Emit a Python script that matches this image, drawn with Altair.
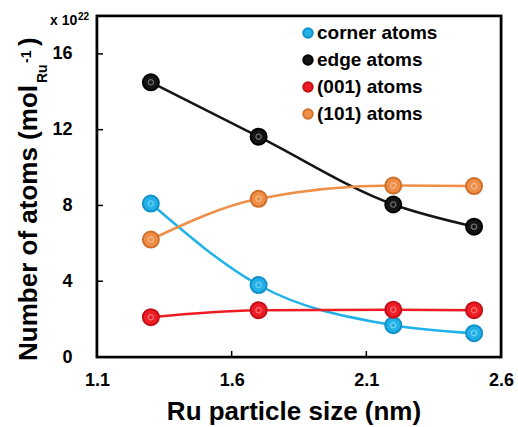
import altair as alt
import pandas as pd

# ---- data ----
sizes = [1.3, 1.7, 2.2, 2.5]
series = ["corner atoms", "edge atoms", "(001) atoms", "(101) atoms"]
corner = [8.1, 3.8, 1.68, 1.26]
edge = [14.5, 11.63, 8.05, 6.88]
f001 = [2.1, 2.47, 2.5, 2.47]
f101 = [6.2, 8.35, 9.05, 9.02]
x_ticks = [1.1, 1.6, 2.1, 2.6]
y_ticks = [0, 4, 8, 12, 16]
y_domain = [0, 18]
colors = ["#1FB1E8", "#151515", "#EE1C24", "#EE8E47"]
edge_colors = ["#1390C8", "#000000", "#C30F18", "#CF6F2A"]

rows = []
for name, vals in zip(series, [corner, edge, f001, f101]):
    for s, v in zip(sizes, vals):
        rows.append({"size": s, "value": v, "series": name})
df = pd.DataFrame(rows)

FONT = "Liberation Sans"
W, H = 404, 341
BW = 1.3  # half of the frame line width

xs = alt.Scale(domain=[x_ticks[0], x_ticks[-1]], nice=False, zero=False)
ys = alt.Scale(domain=y_domain, nice=False)
cs = alt.Scale(domain=series, range=colors)
ss = alt.Scale(domain=series, range=edge_colors)

x_enc = alt.X(
    "size:Q", scale=xs,
    axis=alt.Axis(values=x_ticks, format=".1f", title=None, ticks=False,
                  domain=False, grid=False, labelPadding=14,
                  labelFont=FONT, labelFontSize=18, labelFontWeight="bold",
                  labelColor="black", labelFlush=False),
)
y_enc = alt.Y(
    "value:Q", scale=ys,
    axis=alt.Axis(values=y_ticks, format="d", title=None, ticks=False,
                  domain=False, grid=False, labelPadding=25,
                  labelFont=FONT, labelFontSize=18, labelFontWeight="bold",
                  labelColor="black", labelFlush=False),
)

one = pd.DataFrame({"f": [0]})

# plot frame as two filled rectangles: black outer, white inner
frame_outer = alt.Chart(one).mark_rect(color="#000000", opacity=1).encode(
    x=alt.value(-BW), x2=alt.value(W + BW), y=alt.value(-BW), y2=alt.value(H + BW))
frame_inner = alt.Chart(one).mark_rect(color="#FFFFFF", opacity=1).encode(
    x=alt.value(BW), x2=alt.value(W - BW), y=alt.value(BW), y2=alt.value(H - BW))

base = alt.Chart(df)

lines = base.mark_line(strokeWidth=2.5, interpolate="monotone").encode(
    x=x_enc, y=y_enc,
    color=alt.Color("series:N", scale=cs, legend=None),
    detail="series:N",
)

points = base.mark_point(filled=True, size=256, strokeWidth=2, opacity=1).encode(
    x=alt.X("size:Q", scale=xs),
    y=alt.Y("value:Q", scale=ys),
    fill=alt.Fill("series:N", scale=cs, legend=None),
    stroke=alt.Stroke("series:N", scale=ss, legend=None),
)

inner = base.mark_point(filled=False, size=28, strokeWidth=1.2, color="white", opacity=0.4).encode(
    x=alt.X("size:Q", scale=xs),
    y=alt.Y("value:Q", scale=ys),
)

ytick_df = pd.DataFrame({"v": y_ticks[1:]})
xtick_df = pd.DataFrame({"v": x_ticks[1:-1]})
yticks = alt.Chart(ytick_df).mark_rule(color="black", strokeWidth=1.5).encode(
    y=alt.Y("v:Q", scale=ys), x=alt.value(0), x2=alt.value(6))
xticks = alt.Chart(xtick_df).mark_rule(color="black", strokeWidth=1.5).encode(
    x=alt.X("v:Q", scale=xs), y=alt.value(H), y2=alt.value(H - 6))

main = alt.layer(frame_outer, frame_inner, lines, points, inner, yticks, xticks)

# legend built from the series list, positioned through its own point scale
leg_df = pd.DataFrame({"series": series})
leg_y = alt.Y("series:N", scale=alt.Scale(type="point", domain=series, range=[17, 98], padding=0),
              axis=None)
leg_sym = alt.Chart(leg_df).mark_point(filled=True, size=90, strokeWidth=2, opacity=1).encode(
    x=alt.value(211), y=leg_y,
    fill=alt.Fill("series:N", scale=cs, legend=None),
    stroke=alt.Stroke("series:N", scale=ss, legend=None),
)
leg_txt = alt.Chart(leg_df).mark_text(
    font=FONT, fontSize=19, fontWeight="bold", color="black", align="left", baseline="middle"
).encode(x=alt.value(220), y=leg_y, text="series:N")
leg = alt.layer(leg_sym, leg_txt)

def txt(t, x, y, size, angle=0, align="left", baseline="alphabetic"):
    return alt.Chart(pd.DataFrame({"t": [t]})).mark_text(
        font=FONT, fontSize=size, fontWeight="bold", color="black",
        angle=angle, align=align, baseline=baseline,
    ).encode(x=alt.value(x), y=alt.value(y), text="t:N")

ytitle = [
    txt("Number of atoms (mol", -60, 69, 26, angle=270, align="right"),
    txt("Ru", -50, 67, 14, angle=270, align="left"),
    txt("-1", -66, 47, 14, angle=270, align="left"),
    txt(")", -60, 30, 26, angle=270, align="left"),
]
xtitle = txt("Ru particle size (nm)", 197, 404, 26, align="center")
mult = [txt("x 10", -47, 9, 14), txt("22", -19, 4, 10)]

chart = alt.layer(main, leg, xtitle, *ytitle, *mult).resolve_scale(
    y="independent"
).properties(
    width=W, height=H,
    background="white",
    autosize=alt.AutoSizeParams(type="none"),
    padding={"left": 97, "top": 16, "right": 17, "bottom": 70},
).configure_view(stroke="black", strokeWidth=2.5)

chart.save("out.html", embed_options={"renderer": "svg", "actions": False})
